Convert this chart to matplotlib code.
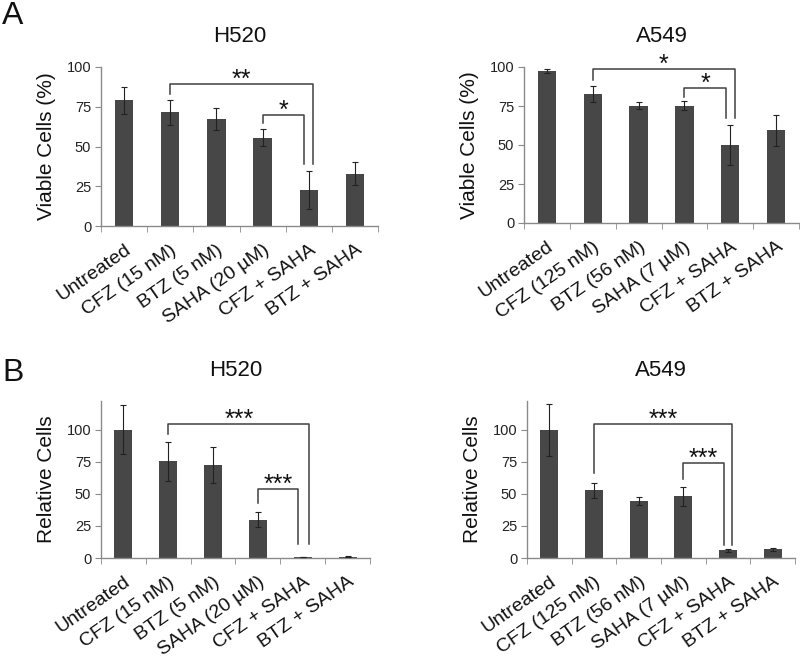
import matplotlib
matplotlib.use("Agg")
import matplotlib.pyplot as plt
import matplotlib.transforms as mtransforms
import numpy as np

plt.rcParams['font.family'] = ['Liberation Sans', 'DejaVu Sans']

# 数据
labels_h520 = ['Untreated', 'CFZ (15 nM)', 'BTZ (5 nM)', 'SAHA (20 µM)', 'CFZ + SAHA', 'BTZ + SAHA']
labels_a549 = ['Untreated', 'CFZ (125 nM)', 'BTZ (56 nM)', 'SAHA (7 µM)', 'CFZ + SAHA', 'BTZ + SAHA']

viable_h520 = [79, 71.5, 67.5, 55.5, 22.5, 33]
viable_h520_err = [8.3, 7.8, 7, 5.3, 12, 7.4]
viable_a549 = [97.4, 82.7, 75.3, 75.3, 50, 59.5]
viable_a549_err = [1, 5.3, 2.5, 2.7, 13, 10]

rel_h520 = [100, 75.5, 72.8, 30, 0.8, 1.0]
rel_h520_err = [19, 15.3, 14, 5.8, 0.3, 0.3]
rel_a549 = [100, 52.8, 44.3, 48, 6, 6.7]
rel_a549_err = [20.5, 6, 3.3, 7.4, 1, 1]

# 显著性标记: (左, 右, 横线高度, 左腿底, 右腿底, 星号)
sig_viable_h520 = [(1, 4.1, 89, 83, 39, '**'), (3, 3.9, 70, 64.5, 39, '*')]
sig_viable_a549 = [(1, 4.1, 98.5, 91.7, 67, '*'), (3, 3.9, 86.4, 81, 67, '*')]
sig_rel_h520 = [(1, 4.15, 104.4, 96.6, 11, '***'), (3, 3.9, 54, 43, 11, '***')]
sig_rel_a549 = [(1, 4.1, 104.4, 66.3, 9.8, '***'), (3, 3.9, 73.8, 61.7, 9.8, '***')]

bar_color = '#474747'
axis_color = '#8a8a8a'


def draw_panel(ax, labels, values, errs, sigs, title, ylabel, ytop):
    x = np.arange(len(labels))
    ax.bar(x, values, width=0.4, color=bar_color, zorder=2)
    ax.errorbar(x, values, yerr=errs, fmt='none', ecolor='#222222',
                elinewidth=0.8, capsize=2, capthick=0.8, zorder=3)
    ax.set_xlim(-0.5, len(labels) - 0.5)
    ax.set_ylim(0, ytop)
    ax.set_yticks([0, 25, 50, 75, 100])
    ax.set_xticks(x)
    ax.set_xticklabels(labels, rotation=35, ha='right', va='top',
                       rotation_mode='anchor', fontsize=14, color='#111111')
    # 标签整体右移一点
    shift = mtransforms.ScaledTranslation(4 / 100, 0, ax.figure.dpi_scale_trans)
    for lab in ax.get_xticklabels():
        lab.set_transform(lab.get_transform() + shift)
    ax.set_xticks(np.arange(len(labels) + 1) - 0.5, minor=True)
    ax.tick_params(axis='x', which='major', length=0, pad=11)
    ax.tick_params(axis='x', which='minor', length=4, color=axis_color, direction='out')
    ax.tick_params(axis='y', length=4, color=axis_color, labelsize=10.5,
                   labelcolor='#222222', pad=3)
    for s in ['top', 'right']:
        ax.spines[s].set_visible(False)
    for s in ['left', 'bottom']:
        ax.spines[s].set_color(axis_color)
        ax.spines[s].set_linewidth(1.0)
    ax.set_ylabel(ylabel, fontsize=15, color='#111111', labelpad=8)
    ax.set_title(title, fontsize=16, color='#111111', pad=18)

    for (i, j, y, yl, yr, stars) in sigs:
        ax.plot([i, i, j, j], [yl, y, y, yr], color='#404040', lw=1.1,
                clip_on=False, zorder=4)
        ax.annotate(stars, xy=((i + j) / 2, y), xytext=(0, -2),
                    textcoords='offset points', ha='center', va='baseline',
                    fontsize=18, color='#111111', annotation_clip=False)


fig = plt.figure(figsize=(8, 6.6), dpi=100)

ax1 = fig.add_axes([101 / 800, 1 - 226 / 660, 277 / 800, 159 / 660])
ax2 = fig.add_axes([524 / 800, 1 - 223 / 660, 275 / 800, 156 / 660])
ax3 = fig.add_axes([101 / 800, 1 - 558 / 660, 269 / 800, 157 / 660])
ax4 = fig.add_axes([527 / 800, 1 - 558 / 660, 268 / 800, 157 / 660])

draw_panel(ax1, labels_h520, viable_h520, viable_h520_err, sig_viable_h520,
           'H520', 'Viable Cells (%)', 100)
draw_panel(ax2, labels_a549, viable_a549, viable_a549_err, sig_viable_a549,
           'A549', 'Viable Cells (%)', 100)
draw_panel(ax3, labels_h520, rel_h520, rel_h520_err, sig_rel_h520,
           'H520', 'Relative Cells', 122.5)
draw_panel(ax4, labels_a549, rel_a549, rel_a549_err, sig_rel_a549,
           'A549', 'Relative Cells', 122.5)

fig.text(2 / 800, 1 - 1 / 660, 'A', fontsize=23, ha='left', va='top', color='#111111')
fig.text(2 / 800, 1 - 358 / 660, 'B', fontsize=23, ha='left', va='top', color='#111111')

fig.savefig('out.png', dpi=100)
